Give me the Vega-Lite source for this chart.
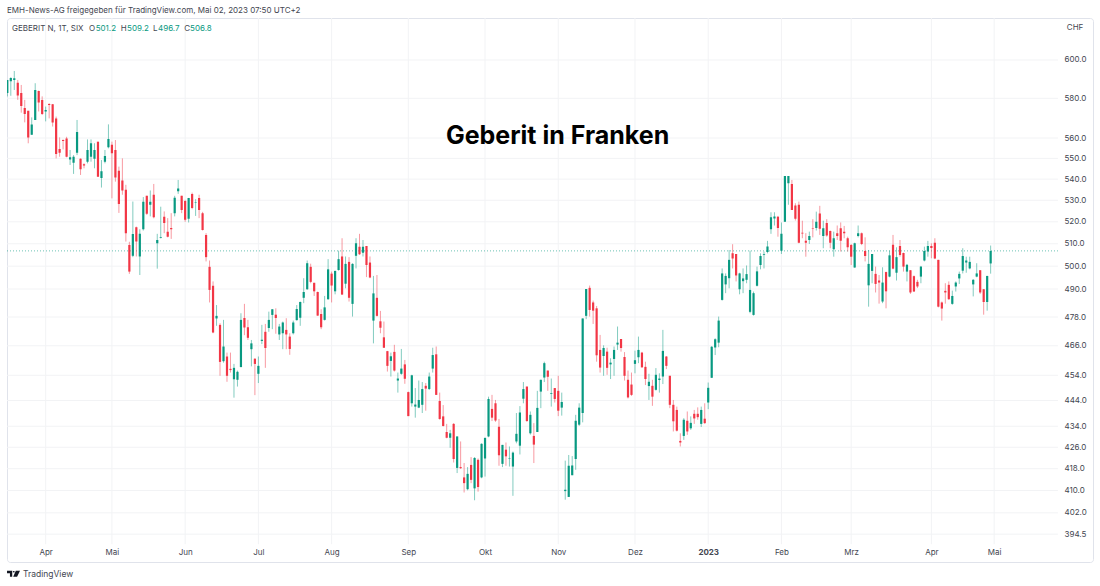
{
"$schema":"https://vega.github.io/schema/vega-lite/v6.json",
"width":1086,"height":544,
"autosize":"none",
"padding":{"left":7,"top":18,"right":7,"bottom":24},
"background":"white",
"title":{"text":"EMH-News-AG freigegeben für TradingView.com, Mai 02, 2023 07:50 UTC+2","anchor":"start","frame":"group","fontSize":8,"fontWeight":"normal","font":"Inter","color":"#434651","offset":3},
"data":{"values":[{}]},
"datasets":{
"levels":[{"p":600},{"p":580},{"p":560},{"p":550},{"p":540},{"p":530},{"p":520},{"p":510},{"p":500},{"p":490},{"p":478},{"p":466},{"p":454},{"p":444},{"p":434},{"p":426},{"p":418},{"p":410},{"p":402},{"p":394.5}],
"months":[{"n":11},{"n":30},{"n":51},{"n":72},{"n":93},{"n":115},{"n":137},{"n":158},{"n":180},{"n":201},{"n":222},{"n":242},{"n":265},{"n":283}],
"candles":[
{"n":0,"o":582.7,"h":589.5,"l":581,"c":589.5},
{"n":1,"o":588.8,"h":590.9,"l":581.3,"c":590.5},
{"n":2,"o":589.5,"h":594.2,"l":584.3,"c":590.4},
{"n":3,"o":588.1,"h":589.5,"l":579.2,"c":581.5},
{"n":4,"o":582.8,"h":586.9,"l":572.7,"c":576.1},
{"n":5,"o":575.1,"h":579.2,"l":567.8,"c":572},
{"n":6,"o":573.6,"h":573.6,"l":557.4,"c":560.3},
{"n":7,"o":561.6,"h":570.3,"l":561.5,"c":566.7},
{"n":8,"o":569,"h":587.8,"l":569,"c":584.3},
{"n":9,"o":583.8,"h":584,"l":573.3,"c":577.8},
{"n":10,"o":579.2,"h":581,"l":571.5,"c":572},
{"n":11,"o":573.3,"h":575.8,"l":568.3,"c":574.1},
{"n":12,"o":577.1,"h":577.5,"l":569.8,"c":576.6},
{"n":13,"o":577,"h":577.1,"l":565.7,"c":567.7},
{"n":14,"o":569.7,"h":570.7,"l":550,"c":552.1},
{"n":15,"o":554.6,"h":560.3,"l":550.8,"c":552.8},
{"n":16,"o":559,"h":559.3,"l":554.4,"c":558.5},
{"n":17,"o":559.8,"h":560.6,"l":550.5,"c":550.8},
{"n":18,"o":549.5,"h":554.1,"l":546.8,"c":550.6},
{"n":19,"o":547.9,"h":551.6,"l":542.5,"c":550.8},
{"n":20,"o":552.8,"h":569,"l":551.6,"c":563},
{"n":21,"o":549.8,"h":550,"l":542,"c":544.7},
{"n":22,"o":547.1,"h":547.6,"l":545.2,"c":546.5},
{"n":23,"o":548.4,"h":559.3,"l":547.6,"c":554.1},
{"n":24,"o":550.8,"h":559.3,"l":548.4,"c":557.4},
{"n":25,"o":549.8,"h":557.4,"l":545.2,"c":554.1},
{"n":26,"o":558.2,"h":558.2,"l":541.1,"c":541.1},
{"n":27,"o":540.6,"h":549.2,"l":536,"c":543.8},
{"n":28,"o":548.4,"h":554.1,"l":547.6,"c":551.1},
{"n":29,"o":555.4,"h":566.8,"l":554.9,"c":559.5},
{"n":30,"o":556.7,"h":558.2,"l":530.9,"c":552.5},
{"n":31,"o":554.1,"h":559,"l":538.8,"c":540.8},
{"n":32,"o":544,"h":546,"l":524.1,"c":528.3},
{"n":33,"o":539.3,"h":550,"l":532.6,"c":534.6},
{"n":34,"o":534.9,"h":537.3,"l":511,"c":514.8},
{"n":35,"o":509.4,"h":510.9,"l":496.6,"c":497.6},
{"n":36,"o":504.6,"h":529.4,"l":504,"c":514.4},
{"n":37,"o":517.5,"h":517.8,"l":504.3,"c":511},
{"n":38,"o":504.3,"h":516.6,"l":496.1,"c":514.5},
{"n":39,"o":516.6,"h":531.5,"l":516,"c":529.3},
{"n":40,"o":532.1,"h":532.1,"l":523.2,"c":523.7},
{"n":41,"o":527.9,"h":534.6,"l":522.5,"c":529.3},
{"n":42,"o":532.6,"h":537.7,"l":521.6,"c":522.1},
{"n":43,"o":510.2,"h":514.5,"l":498.9,"c":511.7},
{"n":44,"o":512.6,"h":527,"l":512.4,"c":513},
{"n":45,"o":522.3,"h":524.8,"l":514.8,"c":519.4},
{"n":46,"o":515.4,"h":521.7,"l":512.9,"c":513.2},
{"n":47,"o":517.2,"h":524,"l":512.2,"c":516.6},
{"n":48,"o":524,"h":532.1,"l":522.5,"c":531.2},
{"n":49,"o":534.3,"h":539.6,"l":533,"c":535.5},
{"n":50,"o":532.1,"h":532.1,"l":524,"c":525.5},
{"n":51,"o":529.6,"h":530.2,"l":520,"c":520.9},
{"n":52,"o":521.4,"h":531.1,"l":519.7,"c":531.1},
{"n":53,"o":533,"h":533.6,"l":525.8,"c":526.4},
{"n":54,"o":528.7,"h":530.5,"l":522.7,"c":529},
{"n":55,"o":531.1,"h":532.6,"l":521.7,"c":525.5},
{"n":56,"o":524,"h":524.6,"l":516,"c":516.3},
{"n":57,"o":514,"h":514.8,"l":502.1,"c":504},
{"n":58,"o":499.7,"h":502.5,"l":484.2,"c":489.6},
{"n":59,"o":491.4,"h":493.3,"l":471.2,"c":471.5},
{"n":60,"o":477.4,"h":483.1,"l":474.3,"c":478.5},
{"n":61,"o":474.7,"h":475.4,"l":453.8,"c":459.4},
{"n":62,"o":459.7,"h":476.8,"l":459.1,"c":465.7},
{"n":63,"o":461.6,"h":463.2,"l":451.4,"c":453.8},
{"n":64,"o":456.6,"h":463.2,"l":455.1,"c":456.1},
{"n":65,"o":452.4,"h":458.6,"l":445.1,"c":457},
{"n":66,"o":452.2,"h":455.9,"l":449.5,"c":455.4},
{"n":67,"o":457.3,"h":479.6,"l":457.3,"c":476.8},
{"n":68,"o":477.6,"h":483.6,"l":470.4,"c":473.6},
{"n":69,"o":473.7,"h":476.8,"l":468.4,"c":469.3},
{"n":70,"o":464.6,"h":468.4,"l":457.6,"c":467},
{"n":71,"o":460.7,"h":460.9,"l":446.1,"c":458.6},
{"n":72,"o":454.6,"h":461.6,"l":450.9,"c":457.8},
{"n":73,"o":468,"h":474.7,"l":466.7,"c":468.5},
{"n":74,"o":471.8,"h":475.1,"l":457,"c":465.1},
{"n":75,"o":473.4,"h":480.3,"l":471.8,"c":476.8},
{"n":76,"o":478.9,"h":481.3,"l":472.9,"c":481.3},
{"n":77,"o":479,"h":481.7,"l":471,"c":477.6},
{"n":78,"o":470.7,"h":475.1,"l":468.4,"c":474},
{"n":79,"o":471.2,"h":476.1,"l":464.6,"c":475.7},
{"n":80,"o":472.6,"h":477.5,"l":464.6,"c":470.7},
{"n":81,"o":469.8,"h":471.2,"l":462.3,"c":464.7},
{"n":82,"o":471.2,"h":476.5,"l":470.7,"c":475.7},
{"n":83,"o":476.7,"h":483.1,"l":476.5,"c":481.4},
{"n":84,"o":477.7,"h":484.6,"l":474.3,"c":484.4},
{"n":85,"o":486.2,"h":494.7,"l":483.9,"c":488.7},
{"n":86,"o":489.9,"h":502.5,"l":489.6,"c":501.3},
{"n":87,"o":499.7,"h":501.1,"l":492.5,"c":493.1},
{"n":88,"o":492.7,"h":492.7,"l":487,"c":489},
{"n":89,"o":488.7,"h":488.9,"l":478.5,"c":478.6},
{"n":90,"o":479.3,"h":481.3,"l":472.9,"c":473.7},
{"n":91,"o":476.8,"h":487,"l":476.5,"c":482.1},
{"n":92,"o":485.6,"h":503.1,"l":485.3,"c":498.6},
{"n":93,"o":496.7,"h":497.6,"l":484.2,"c":491.5},
{"n":94,"o":489,"h":498,"l":487.7,"c":497.9},
{"n":95,"o":498.3,"h":506.9,"l":498,"c":503.1},
{"n":96,"o":504.3,"h":512.5,"l":487.4,"c":487.6},
{"n":97,"o":492.3,"h":504.3,"l":490.3,"c":501},
{"n":98,"o":501.9,"h":504,"l":484.6,"c":486.2},
{"n":99,"o":483.6,"h":501.3,"l":478.2,"c":501},
{"n":100,"o":504.6,"h":512.5,"l":499,"c":510.2},
{"n":101,"o":508.7,"h":514.5,"l":505,"c":505.3},
{"n":102,"o":506,"h":511.7,"l":504.3,"c":508.7},
{"n":103,"o":509,"h":509,"l":495.2,"c":500.5},
{"n":104,"o":501.6,"h":504.3,"l":494.7,"c":495},
{"n":105,"o":476.5,"h":495.7,"l":467,"c":488.1},
{"n":106,"o":486.2,"h":496.1,"l":478.2,"c":478.5},
{"n":107,"o":476.2,"h":480.6,"l":471.2,"c":473.5},
{"n":108,"o":469.5,"h":476.1,"l":465.1,"c":465.2},
{"n":109,"o":463.8,"h":463.9,"l":455.5,"c":457.8},
{"n":110,"o":459.8,"h":463.2,"l":453.5,"c":461.7},
{"n":111,"o":463.5,"h":466.4,"l":455.5,"c":455.9},
{"n":112,"o":451.9,"h":455.1,"l":447.1,"c":452.7},
{"n":113,"o":454.6,"h":464.7,"l":454.2,"c":456.7},
{"n":114,"o":458.4,"h":460.2,"l":450.6,"c":452.6},
{"n":115,"o":447.3,"h":447.5,"l":437.9,"c":437.9},
{"n":116,"o":442.9,"h":454.2,"l":441.6,"c":454},
{"n":117,"o":441.6,"h":448.9,"l":437.3,"c":442.4},
{"n":118,"o":441.2,"h":451.9,"l":441,"c":444.2},
{"n":119,"o":442.3,"h":451.3,"l":439.1,"c":448.5},
{"n":120,"o":449.8,"h":450.9,"l":440,"c":448.7},
{"n":121,"o":448.5,"h":455.1,"l":448.2,"c":453.5},
{"n":122,"o":456.7,"h":465.2,"l":455.1,"c":462.2},
{"n":123,"o":462.5,"h":465.7,"l":446.2,"c":446.2},
{"n":124,"o":443.8,"h":447.1,"l":436.5,"c":436.8},
{"n":125,"o":437.8,"h":442.2,"l":433.9,"c":434.1},
{"n":126,"o":431.8,"h":434.9,"l":429.4,"c":429.6},
{"n":127,"o":429.6,"h":432.6,"l":425.8,"c":431.3},
{"n":128,"o":434.9,"h":435.2,"l":420.3,"c":421.6},
{"n":129,"o":418.3,"h":430.1,"l":416.4,"c":430.1},
{"n":130,"o":418.6,"h":428.2,"l":417.9,"c":418.2},
{"n":131,"o":414.8,"h":420.1,"l":409.3,"c":412.7},
{"n":132,"o":410.5,"h":418.6,"l":410.1,"c":416.1},
{"n":133,"o":419.4,"h":422.3,"l":412.7,"c":413.9},
{"n":134,"o":410.8,"h":422.3,"l":406.5,"c":422},
{"n":135,"o":421.3,"h":421.8,"l":409.6,"c":411.3},
{"n":136,"o":414.8,"h":427.5,"l":414.5,"c":427.3},
{"n":137,"o":421.8,"h":429.8,"l":415.1,"c":429.5},
{"n":138,"o":430.1,"h":445.5,"l":429.8,"c":444.6},
{"n":139,"o":440.7,"h":446.2,"l":436,"c":437.3},
{"n":140,"o":442.9,"h":444.2,"l":435.7,"c":436.2},
{"n":141,"o":433.8,"h":436.8,"l":419.1,"c":423},
{"n":142,"o":419.8,"h":426.9,"l":418.6,"c":426.9},
{"n":143,"o":425.1,"h":427.8,"l":419.1,"c":422.6},
{"n":144,"o":421.8,"h":426.3,"l":418.8,"c":422},
{"n":145,"o":418.8,"h":424.4,"l":408.1,"c":424},
{"n":146,"o":428.2,"h":439.1,"l":427.5,"c":431.1},
{"n":147,"o":426.6,"h":441.8,"l":423.3,"c":439.3},
{"n":148,"o":444.7,"h":451.3,"l":442.9,"c":448.5},
{"n":149,"o":449.5,"h":449.5,"l":435.7,"c":436},
{"n":150,"o":431.3,"h":439.7,"l":430.8,"c":438.4},
{"n":151,"o":430.3,"h":435.2,"l":420.1,"c":427},
{"n":152,"o":431.8,"h":447.8,"l":431.8,"c":441.1},
{"n":153,"o":447.5,"h":452.2,"l":441,"c":452.2},
{"n":154,"o":453.1,"h":459.5,"l":451.3,"c":458.9},
{"n":155,"o":455.9,"h":455.9,"l":447.8,"c":453.4},
{"n":156,"o":446.6,"h":452.7,"l":441.6,"c":446.9},
{"n":157,"o":448.9,"h":448.9,"l":443.2,"c":444.6},
{"n":158,"o":447.8,"h":453.8,"l":437.9,"c":440},
{"n":159,"o":441.2,"h":447.1,"l":438.1,"c":443.4},
{"n":160,"o":409.8,"h":421,"l":406.7,"c":410.3},
{"n":161,"o":407.7,"h":423.1,"l":407.7,"c":419.1},
{"n":162,"o":415.6,"h":422.7,"l":415.6,"c":419.2},
{"n":163,"o":421.6,"h":438.4,"l":417.6,"c":436.1},
{"n":164,"o":434.6,"h":442.9,"l":434.1,"c":441.2},
{"n":165,"o":439.1,"h":477.4,"l":435.5,"c":477.4},
{"n":166,"o":478.5,"h":490,"l":477.1,"c":490},
{"n":167,"o":490.5,"h":491.5,"l":478.2,"c":481},
{"n":168,"o":484.2,"h":485,"l":475.1,"c":480.7},
{"n":169,"o":481.7,"h":482.7,"l":459.5,"c":462.1},
{"n":170,"o":464.3,"h":470.5,"l":455.1,"c":457.1},
{"n":171,"o":461.8,"h":466.2,"l":453.8,"c":465.1},
{"n":172,"o":463.6,"h":465.2,"l":454.2,"c":457},
{"n":173,"o":458.4,"h":460.9,"l":452.5,"c":459.1},
{"n":174,"o":460.6,"h":465.7,"l":453.8,"c":464.3},
{"n":175,"o":466.5,"h":474,"l":464.3,"c":467.3},
{"n":176,"o":468.8,"h":468.8,"l":463.6,"c":465.1},
{"n":177,"o":461.4,"h":463.4,"l":451.9,"c":453.8},
{"n":178,"o":452.2,"h":455.9,"l":444.8,"c":445.2},
{"n":179,"o":450.3,"h":455.1,"l":445.8,"c":446.2},
{"n":180,"o":458.6,"h":464,"l":454.8,"c":460.1},
{"n":181,"o":461.3,"h":469.8,"l":458.9,"c":464.3},
{"n":182,"o":463.2,"h":463.5,"l":457.1,"c":457.2},
{"n":183,"o":457.4,"h":459.5,"l":450.1,"c":452.5},
{"n":184,"o":449.7,"h":454.6,"l":444.2,"c":451.4},
{"n":185,"o":449.8,"h":452.2,"l":441.9,"c":445.5},
{"n":186,"o":448.2,"h":456.9,"l":447.9,"c":454.2},
{"n":187,"o":452.1,"h":454.8,"l":447.1,"c":452.7},
{"n":188,"o":453.5,"h":472.6,"l":450.5,"c":463.9},
{"n":189,"o":461.6,"h":461.8,"l":456.5,"c":457.8},
{"n":190,"o":453.8,"h":453.8,"l":441,"c":442.3},
{"n":191,"o":442.3,"h":444.2,"l":432,"c":435.9},
{"n":192,"o":440.3,"h":441.6,"l":432,"c":432.3},
{"n":193,"o":428.4,"h":431.3,"l":426.3,"c":427.8},
{"n":194,"o":430.3,"h":437.1,"l":428.8,"c":436.5},
{"n":195,"o":436.1,"h":439.7,"l":430.7,"c":432},
{"n":196,"o":433.2,"h":437.8,"l":432.6,"c":435.3},
{"n":197,"o":438.8,"h":440.3,"l":434.9,"c":437},
{"n":198,"o":438.8,"h":441.3,"l":436.5,"c":437.5},
{"n":199,"o":434.9,"h":441.6,"l":433.7,"c":440.3},
{"n":200,"o":436.9,"h":442.9,"l":434.9,"c":435.2},
{"n":201,"o":443.2,"h":451.1,"l":440.6,"c":449},
{"n":202,"o":453,"h":465.9,"l":452.9,"c":465.6},
{"n":203,"o":465.3,"h":469.1,"l":462.2,"c":468.7},
{"n":204,"o":467.3,"h":478.2,"l":465.4,"c":476.5},
{"n":205,"o":485.3,"h":499,"l":485,"c":496.8},
{"n":206,"o":492,"h":496.8,"l":488.2,"c":495.7},
{"n":207,"o":494.7,"h":507.2,"l":490.3,"c":502.8},
{"n":208,"o":505.7,"h":509.8,"l":499,"c":503.4},
{"n":209,"o":505.4,"h":505.4,"l":493.3,"c":495.9},
{"n":210,"o":489.9,"h":497.1,"l":487.7,"c":496.8},
{"n":211,"o":493.4,"h":499,"l":488.2,"c":494.6},
{"n":212,"o":494,"h":500.3,"l":492.5,"c":496.5},
{"n":213,"o":480.2,"h":506.9,"l":479.6,"c":489.6},
{"n":214,"o":478.9,"h":488.9,"l":478.6,"c":488.2},
{"n":215,"o":491.4,"h":499.8,"l":491.1,"c":497.7},
{"n":216,"o":500.5,"h":505.7,"l":498.6,"c":504.5},
{"n":217,"o":505,"h":506.5,"l":499,"c":505.3},
{"n":218,"o":506.3,"h":511.3,"l":505.7,"c":508.8},
{"n":219,"o":516.6,"h":524.4,"l":514.5,"c":522.1},
{"n":220,"o":521.5,"h":524.4,"l":518.3,"c":522.4},
{"n":221,"o":522.3,"h":522.7,"l":513.2,"c":517.2},
{"n":222,"o":506.9,"h":519.7,"l":505.4,"c":514.5},
{"n":223,"o":520,"h":541.5,"l":520,"c":541.5},
{"n":224,"o":538,"h":541.5,"l":527.9,"c":541.5},
{"n":225,"o":537.7,"h":539.6,"l":525.5,"c":525.5},
{"n":226,"o":527.6,"h":528.6,"l":520.6,"c":521.4},
{"n":227,"o":527.9,"h":529.4,"l":510.2,"c":510.5},
{"n":228,"o":515,"h":520.5,"l":512.5,"c":514.6},
{"n":229,"o":511.4,"h":514.8,"l":504.2,"c":510.5},
{"n":230,"o":511.7,"h":515.5,"l":509.9,"c":513.5},
{"n":231,"o":517.2,"h":521.2,"l":512.9,"c":516.9},
{"n":232,"o":517.2,"h":524.7,"l":516,"c":520},
{"n":233,"o":523.8,"h":527.4,"l":514,"c":516.8},
{"n":234,"o":513.5,"h":520.5,"l":508,"c":517.1},
{"n":235,"o":519.5,"h":521.2,"l":513.2,"c":513.7},
{"n":236,"o":515.8,"h":516,"l":508,"c":510.5},
{"n":237,"o":507.5,"h":515.5,"l":504.2,"c":512.5},
{"n":238,"o":514.8,"h":518.3,"l":511.7,"c":513.5},
{"n":239,"o":517.1,"h":519.7,"l":506.5,"c":511.4},
{"n":240,"o":515.4,"h":518.1,"l":512.5,"c":514.8},
{"n":241,"o":512.5,"h":513.2,"l":506.5,"c":508.4},
{"n":242,"o":509.4,"h":509.9,"l":500.5,"c":504.2},
{"n":243,"o":499.4,"h":510.5,"l":499.3,"c":510.2},
{"n":244,"o":513.5,"h":518.3,"l":512.9,"c":514.8},
{"n":245,"o":514.8,"h":515.1,"l":509.4,"c":509.9},
{"n":246,"o":506.8,"h":512.9,"l":502.1,"c":504.5},
{"n":247,"o":491.6,"h":507.2,"l":482.4,"c":501},
{"n":248,"o":497.9,"h":505.4,"l":492.5,"c":505.4},
{"n":249,"o":496.6,"h":499.8,"l":488.5,"c":492.2},
{"n":250,"o":493.7,"h":496.1,"l":483.7,"c":492.8},
{"n":251,"o":484.6,"h":499.5,"l":483.9,"c":492.8},
{"n":252,"o":497.4,"h":497.6,"l":481.7,"c":489},
{"n":253,"o":495.4,"h":506.9,"l":495.1,"c":504.8},
{"n":254,"o":509.6,"h":514,"l":498.6,"c":498.9},
{"n":255,"o":497.1,"h":508.4,"l":493.7,"c":504},
{"n":256,"o":509,"h":511.7,"l":504.2,"c":505},
{"n":257,"o":505.9,"h":506,"l":497.6,"c":499.8},
{"n":258,"o":497.6,"h":501,"l":493.3,"c":500.6},
{"n":259,"o":498.2,"h":498.3,"l":487.9,"c":488.5},
{"n":260,"o":495.6,"h":495.9,"l":488.8,"c":488.9},
{"n":261,"o":493.1,"h":494,"l":490.4,"c":491.1},
{"n":262,"o":495.4,"h":500.1,"l":492.5,"c":499.8},
{"n":263,"o":502.5,"h":508.7,"l":502.1,"c":506.8},
{"n":264,"o":506.5,"h":511.3,"l":504.2,"c":509},
{"n":265,"o":509,"h":510.2,"l":503.5,"c":508.1},
{"n":266,"o":510.5,"h":512.5,"l":503.1,"c":503.4},
{"n":267,"o":502.8,"h":502.8,"l":482.1,"c":482.4},
{"n":268,"o":484.2,"h":484.6,"l":476.5,"c":481.6},
{"n":269,"o":489.2,"h":492.5,"l":483.7,"c":488.5},
{"n":270,"o":491.8,"h":493.3,"l":485.3,"c":485.6},
{"n":271,"o":483.6,"h":489.3,"l":483.2,"c":487},
{"n":272,"o":491.1,"h":493.3,"l":488.9,"c":492.8},
{"n":273,"o":494.6,"h":497.6,"l":492.2,"c":496.6},
{"n":274,"o":498,"h":508,"l":496.8,"c":504.5},
{"n":275,"o":501.6,"h":504.2,"l":497.1,"c":502.5},
{"n":276,"o":499,"h":504.2,"l":498.6,"c":501.9},
{"n":277,"o":492,"h":494.3,"l":486.8,"c":494},
{"n":278,"o":495.4,"h":501.3,"l":495.1,"c":496.8},
{"n":279,"o":498.2,"h":498.3,"l":487.9,"c":488.5},
{"n":280,"o":489.9,"h":490,"l":479,"c":484.4},
{"n":281,"o":484.4,"h":495.7,"l":480.7,"c":495.7},
{"n":282,"o":501.2,"h":509.2,"l":496.7,"c":506.8}
]},
"layer":[
{"data":{"name":"levels"},"mark":{"type":"rule","color":"#f2f3f5","strokeWidth":1},
 "encoding":{
  "x":{"datum":-0.09,"type":"quantitative","scale":{"domain":[-0.09,311.35],"nice":false,"zero":false,"padding":0},
   "axis":{"values":[11,30,51,72,93,115,137,158,180,201,222,242,265,283],"title":null,"grid":false,"ticks":false,"domain":false,"labelPadding":-10,"labelBaseline":"middle","labelFont":"Inter","labelFontSize":8,"labelColor":"#434651","labelFlush":false,"labelOverlap":false,
   "labelFontWeight":{"condition":{"test":"datum.value==201","value":"bold"},"value":"normal"},
   "labelExpr":"{'11':'Apr','30':'Mai','51':'Jun','72':'Jul','93':'Aug','115':'Sep','137':'Okt','158':'Nov','180':'Dez','201':'2023','222':'Feb','242':'Mrz','265':'Apr','283':'Mai'}[datum.value]"}},
  "x2":{"datum":301.3},
  "y":{"field":"p","type":"quantitative","scale":{"type":"log","domain":[384.9,622.7],"nice":false,"zero":false},
   "axis":{"orient":"right","values":[600,580,560,550,540,530,520,510,500,490,478,466,454,444,434,426,418,410,402,394.5],"format":".1f","title":null,"grid":false,"ticks":false,"domain":false,"labelAlign":"left","labelPadding":-29,"labelFont":"Inter","labelFontSize":8,"labelColor":"#434651","labelOverlap":false,"labelFlush":false}}}},
{"data":{"name":"months"},"mark":{"type":"rule","color":"#f2f3f5","strokeWidth":1},
 "encoding":{"x":{"field":"n","type":"quantitative"},"y":{"datum":622.7,"type":"quantitative"},"y2":{"datum":391}}},
{"data":{"values":[{"last":506.8}]},"mark":{"type":"rule","color":"#089981","strokeWidth":1,"strokeDash":[1,2],"opacity":0.6},
 "encoding":{"y":{"field":"last","type":"quantitative"},"x":{"datum":-0.09,"type":"quantitative"},"x2":{"datum":301.3}}},
{"data":{"name":"candles"},"mark":{"type":"rule","strokeWidth":1,"opacity":0.5,"clip":true},
 "encoding":{"x":{"field":"n","type":"quantitative"},"y":{"field":"l","type":"quantitative"},"y2":{"field":"h"},
  "color":{"condition":{"test":"datum.c>=datum.o","value":"#089981"},"value":"#f23645"}}},
{"data":{"name":"candles"},"mark":{"type":"bar","size":2.2,"clip":true},
 "encoding":{"x":{"field":"n","type":"quantitative"},"y":{"field":"o","type":"quantitative"},"y2":{"field":"c"},
  "color":{"condition":{"test":"datum.c>=datum.o","value":"#089981"},"value":"#f23645"}}},
{"mark":{"type":"text","text":"Geberit in Franken","font":"Inter","fontSize":25,"fontWeight":"bold","color":"#000000"},
 "encoding":{"x":{"datum":157.8,"type":"quantitative"},"y":{"datum":561,"type":"quantitative"}}},
{"mark":{"type":"text","text":"CHF","font":"Inter","fontSize":8,"color":"#434651"},
 "encoding":{"x":{"datum":306.2,"type":"quantitative"},"y":{"datum":617.2,"type":"quantitative"}}},
{"mark":{"type":"text","text":"GEBERIT N, 1T, SIX","align":"left","font":"Inter","fontSize":8,"color":"#434651"},
 "encoding":{"x":{"datum":1.35,"type":"quantitative"},"y":{"datum":616.4,"type":"quantitative"}}},
{"mark":{"type":"text","text":"O","align":"left","font":"Inter","fontSize":8,"color":"#434651"},
 "encoding":{"x":{"datum":23.43,"type":"quantitative"},"y":{"datum":616.4,"type":"quantitative"}}},
{"mark":{"type":"text","text":"501.2","align":"left","font":"Inter","fontSize":8,"color":"#089981"},
 "encoding":{"x":{"datum":25.35,"type":"quantitative"},"y":{"datum":616.4,"type":"quantitative"}}},
{"mark":{"type":"text","text":"H","align":"left","font":"Inter","fontSize":8,"color":"#434651"},
 "encoding":{"x":{"datum":32.52,"type":"quantitative"},"y":{"datum":616.4,"type":"quantitative"}}},
{"mark":{"type":"text","text":"509.2","align":"left","font":"Inter","fontSize":8,"color":"#089981"},
 "encoding":{"x":{"datum":34.33,"type":"quantitative"},"y":{"datum":616.4,"type":"quantitative"}}},
{"mark":{"type":"text","text":"L","align":"left","font":"Inter","fontSize":8,"color":"#434651"},
 "encoding":{"x":{"datum":41.78,"type":"quantitative"},"y":{"datum":616.4,"type":"quantitative"}}},
{"mark":{"type":"text","text":"496.7","align":"left","font":"Inter","fontSize":8,"color":"#089981"},
 "encoding":{"x":{"datum":43.22,"type":"quantitative"},"y":{"datum":616.4,"type":"quantitative"}}},
{"mark":{"type":"text","text":"C","align":"left","font":"Inter","fontSize":8,"color":"#434651"},
 "encoding":{"x":{"datum":50.76,"type":"quantitative"},"y":{"datum":616.4,"type":"quantitative"}}},
{"mark":{"type":"text","text":"506.8","align":"left","font":"Inter","fontSize":8,"color":"#089981"},
 "encoding":{"x":{"datum":52.4,"type":"quantitative"},"y":{"datum":616.4,"type":"quantitative"}}},
{"mark":{"type":"text","text":"TradingView","align":"left","font":"Inter","fontSize":8.5,"color":"#434651","clip":false},
 "encoding":{"x":{"datum":4.5,"type":"quantitative"},"y":{"datum":380.9,"type":"quantitative"}}},
{"mark":{"type":"point","shape":"M-1 -0.46H-0.2V0.46H-0.55V-0.1H-1ZM0.35 -0.46H1L0.55 0.46H-0.05ZM-0.1 -0.3a0.14 0.14 0 1 0 0.28 0a0.14 0.14 0 1 0 -0.28 0Z","size":169,"filled":true,"opacity":1,"color":"#131722","clip":false},
 "encoding":{"x":{"datum":1.78,"type":"quantitative"},"y":{"datum":380.9,"type":"quantitative"}}}
],
"config":{"view":{"stroke":"#e0e3eb","cornerRadius":3}}
}
